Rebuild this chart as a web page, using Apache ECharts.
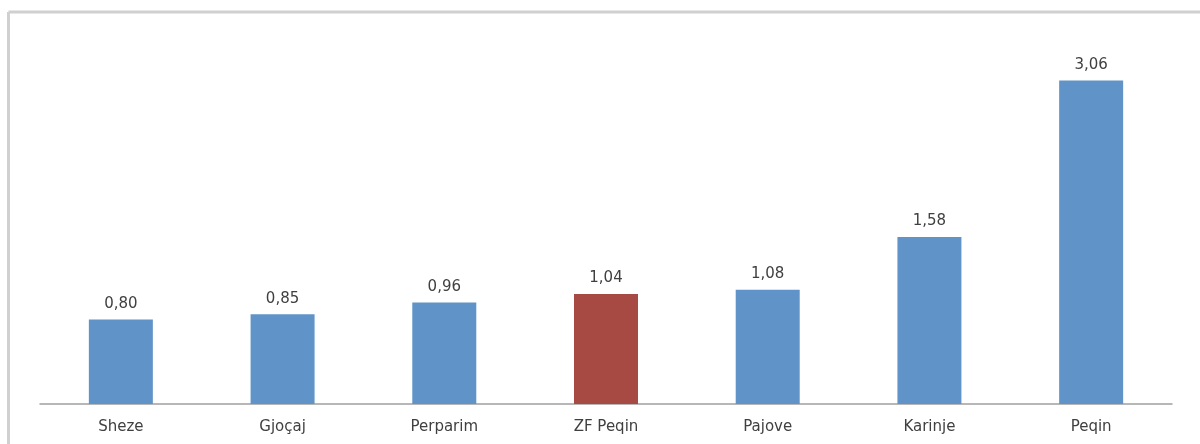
<!DOCTYPE html>
<html><head><meta charset="utf-8">
<script src="https://cdn.jsdelivr.net/npm/echarts@6/dist/echarts.min.js"></script>
<style>html,body{margin:0;padding:0;background:#fff}#c{width:1200px;height:444px}</style>
</head><body><div id="c"></div>
<script>
const categories = ['Sheze','Gjoçaj','Perparim','ZF Peqin','Pajove','Karinje','Peqin'];
const values = [0.80, 0.85, 0.96, 1.04, 1.08, 1.58, 3.06];
const highlighted = ['ZF Peqin'];

const chart = echarts.init(document.getElementById('c'), null, {renderer:'canvas'});
chart.setOption({
  animation:false,
  backgroundColor:'#fff',
  grid:{left:40, right:28, top:34, bottom:40},
  graphic:[
    {type:'line', shape:{x1:8.5,y1:12,x2:1200,y2:12}, style:{stroke:'#d0d0d0', lineWidth:3}},
    {type:'line', shape:{x1:8.5,y1:12,x2:8.5,y2:444}, style:{stroke:'#d0d0d0', lineWidth:3}}
  ],
  xAxis:{
    type:'category', data:categories,
    axisLine:{lineStyle:{color:'#a0a0a0', width:1.5}},
    axisTick:{show:false},
    axisLabel:{color:'#404040', fontFamily:'DejaVu Sans', fontSize:15, margin:16}
  },
  yAxis:{type:'value', min:0, max:3.5, show:false, splitLine:{show:false}},
  series:[{
    type:'bar', barWidth:64,
    data:values.map((v,i)=>({value:v, itemStyle:{color: highlighted.includes(categories[i]) ? '#A64A43' : '#6094C8'}})),
    label:{show:true, position:'top', distance:8, color:'#404040', fontFamily:'DejaVu Sans', fontSize:15,
      formatter:p=>p.value.toFixed(2).replace('.',',')}
  }]
});
</script></body></html>
